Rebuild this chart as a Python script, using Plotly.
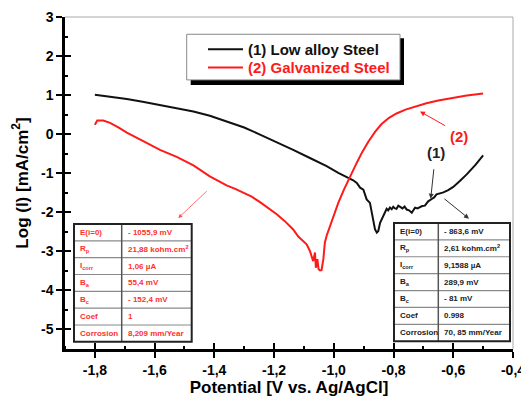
import plotly.graph_objects as go

# ---------------- data ----------------
x_low = [-1.800, -1.750, -1.693, -1.640, -1.582, -1.525, -1.470, -1.415, -1.359, -1.300,
         -1.247, -1.190, -1.136, -1.080, -1.024, -0.985, -0.952, -0.935, -0.923, -0.912,
         -0.901, -0.890, -0.879, -0.873, -0.868, -0.862, -0.856, -0.851, -0.845, -0.840,
         -0.834, -0.829, -0.823, -0.818, -0.812, -0.806, -0.801, -0.795, -0.790, -0.784,
         -0.778, -0.770, -0.763, -0.756, -0.748, -0.739, -0.733, -0.728, -0.720, -0.712,
         -0.704, -0.695, -0.684, -0.672, -0.664, -0.656, -0.645, -0.633, -0.617, -0.600,
         -0.578, -0.555, -0.525, -0.500]
y_low = [1.01, 0.96, 0.90, 0.83, 0.75, 0.67, 0.58, 0.47, 0.33, 0.17,
         -0.01, -0.20, -0.40, -0.61, -0.82, -0.99, -1.12, -1.18, -1.25, -1.37,
         -1.42, -1.67, -1.76, -2.01, -2.18, -2.44, -2.52, -2.48, -2.27, -2.18,
         -2.10, -1.97, -1.91, -1.95, -1.88, -1.92, -1.86, -1.90, -1.91, -1.83,
         -1.86, -1.90, -1.85, -1.93, -1.95, -2.01, -1.94, -1.88, -1.90, -1.86,
         -1.84, -1.83, -1.72, -1.66, -1.62, -1.54, -1.52, -1.49, -1.43, -1.35,
         -1.20, -1.03, -0.78, -0.54]

x_galv = [-1.800, -1.796, -1.792, -1.772, -1.749, -1.720, -1.693, -1.638, -1.582, -1.526,
          -1.470, -1.415, -1.359, -1.330, -1.303, -1.275, -1.247, -1.220, -1.191, -1.165,
          -1.136, -1.119, -1.100, -1.091, -1.080, -1.074, -1.069, -1.063, -1.060, -1.055,
          -1.051, -1.046, -1.041, -1.035, -1.030, -1.024, -1.005, -0.985, -0.966, -0.946,
          -0.923, -0.905, -0.885, -0.862, -0.840, -0.815, -0.790, -0.760, -0.722, -0.690,
          -0.650, -0.611, -0.555, -0.500]
y_galv = [0.24, 0.32, 0.35, 0.35, 0.29, 0.17, 0.04, -0.18, -0.40, -0.58,
          -0.80, -1.08, -1.31, -1.40, -1.50, -1.60, -1.74, -1.88, -2.05, -2.22,
          -2.44, -2.62, -2.74, -2.82, -2.99, -3.12, -3.25, -3.03, -3.42, -3.20,
          -3.46, -3.49, -3.48, -3.20, -2.78, -2.60, -2.18, -1.76, -1.42, -1.08,
          -0.73, -0.46, -0.20, 0.06, 0.26, 0.42, 0.53, 0.63, 0.72, 0.79,
          0.86, 0.92, 0.99, 1.04]

xtick_vals = [-1.8, -1.6, -1.4, -1.2, -1.0, -0.8, -0.6, -0.4]
xtick_text = ["-1,8", "-1,6", "-1,4", "-1,2", "-1,0", "-0,8", "-0,6", "-0,4"]
xminor_vals = [-1.9, -1.7, -1.5, -1.3, -1.1, -0.9, -0.7, -0.5]
ytick_vals = [3, 2, 1, 0, -1, -2, -3, -4, -5]
ytick_text = ["3", "2", "1", "0", "-1", "-2", "-3", "-4", "-5"]
yminor_vals = [2.5, 1.5, 0.5, -0.5, -1.5, -2.5, -3.5, -4.5]

series_names = ["(1) Low alloy Steel", "(2) Galvanized Steel"]
table_labels = ["E(i=0)", "R<sub>p</sub>", "I<sub>corr</sub>", "B<sub>a</sub>",
                "B<sub>c</sub>", "Coef", "Corrosion"]
galv_values = ["- 1055,9 mV", "21,88 kohm.cm<sup>2</sup>", "1,06 µA", "55,4 mV",
               "- 152,4 mV", "1", "8,209 mm/Year"]
low_values = ["- 863,6 mV", "2,61 kohm.cm<sup>2</sup>", "9,1588 µA", "289,9 mV",
              "- 81 mV", "0.998", "70, 85 mm/Year"]

# ---------------- layout geometry ----------------
PAGE_W, PAGE_H = 529, 401
OFF = 8                      # default page body margin
W, H = PAGE_W - OFF, PAGE_H - OFF
L, R, T, B = 65, 513, 17, 349.5   # plot area in page pixels
FONT = "Liberation Sans, Arial, sans-serif"
BLACK = "#111111"
RED = "#ff1a1a"


def fx(p):
    return (p - L) / (R - L)


def fy(p):
    return (B - p) / (B - T)


fig = go.Figure()
fig.add_trace(go.Scatter(x=x_low, y=y_low, mode="lines", name=series_names[0],
                         line=dict(color=BLACK, width=2), showlegend=False))
fig.add_trace(go.Scatter(x=x_galv, y=y_galv, mode="lines", name=series_names[1],
                         line=dict(color=RED, width=2), showlegend=False))
fig.add_trace(go.Scatter(x=[-1.0], y=[0], xaxis="x2", yaxis="y2", mode="markers",
                         marker=dict(opacity=0), hoverinfo="skip", showlegend=False))

shapes = []
annotations = []

shapes.append(dict(type="line", xref="paper", yref="paper", x0=0, x1=1, y0=1, y1=1,
                   line=dict(color="#aaaaaa", width=1)))
shapes.append(dict(type="line", xref="paper", yref="paper", x0=1, x1=1, y0=0, y1=1,
                   line=dict(color="#aaaaaa", width=1)))

lx0, lx1, ly0, ly1 = 186.7, 400, 34.3, 80
shapes.append(dict(type="rect", xref="paper", yref="paper",
                   x0=fx(lx0 + 4), x1=fx(lx1 + 4), y0=fy(ly1 + 5), y1=fy(ly0 + 4),
                   fillcolor="black", line=dict(width=0), layer="above"))
shapes.append(dict(type="rect", xref="paper", yref="paper",
                   x0=fx(lx0), x1=fx(lx1), y0=fy(ly1), y1=fy(ly0),
                   fillcolor="white", line=dict(color="#888888", width=1), layer="above"))
for i, (col, ypix) in enumerate([(BLACK, 49.3), (RED, 67.7)]):
    shapes.append(dict(type="line", xref="paper", yref="paper",
                       x0=fx(208), x1=fx(243), y0=fy(ypix), y1=fy(ypix),
                       line=dict(color=col, width=2), layer="above"))
    annotations.append(dict(xref="paper", yref="paper", x=fx(246), y=fy(ypix),
                            xanchor="left", yanchor="middle", showarrow=False,
                            text=series_names[i],
                            font=dict(family=FONT, size=15, color=col, weight="bold")))


def add_table(x0, xd, x1, y0, y1, values, color):
    n = len(table_labels)
    rh = (y1 - y0) / n
    shapes.append(dict(type="rect", xref="paper", yref="paper",
                       x0=fx(x0), x1=fx(x1), y0=fy(y1), y1=fy(y0),
                       fillcolor="white", line=dict(width=0), layer="above"))
    for k in range(1, n):
        yy = y0 + k * rh
        shapes.append(dict(type="line", xref="paper", yref="paper",
                           x0=fx(x0), x1=fx(x1), y0=fy(yy), y1=fy(yy),
                           line=dict(color="#8a8a8a", width=1.2), layer="above"))
    shapes.append(dict(type="line", xref="paper", yref="paper",
                       x0=fx(xd), x1=fx(xd), y0=fy(y1), y1=fy(y0),
                       line=dict(color="#555555", width=1.5), layer="above"))
    shapes.append(dict(type="rect", xref="paper", yref="paper",
                       x0=fx(x0), x1=fx(x1), y0=fy(y1), y1=fy(y0),
                       line=dict(color="#222222", width=2), layer="above"))
    for k in range(n):
        yc = y0 + (k + 0.5) * rh
        annotations.append(dict(xref="paper", yref="paper", x=fx(x0 + 4), y=fy(yc),
                                xanchor="left", yanchor="middle", showarrow=False,
                                text=table_labels[k],
                                font=dict(family=FONT, size=8, color=color, weight="bold")))
        annotations.append(dict(xref="paper", yref="paper", x=fx(xd + 4), y=fy(yc),
                                xanchor="left", yanchor="middle", showarrow=False,
                                text=values[k],
                                font=dict(family=FONT, size=8, color=color, weight="bold")))


add_table(74, 121.7, 191.7, 224.3, 342.3, galv_values, "#ff3030")
add_table(394, 438.3, 510, 223.3, 341.7, low_values, "#222222")


def arrow(tail, head, color, width=1):
    annotations.append(dict(xref="paper", yref="paper", x=fx(head[0]), y=fy(head[1]),
                            axref="pixel", ayref="pixel",
                            ax=tail[0] - head[0], ay=tail[1] - head[1],
                            text="", showarrow=True, arrowhead=2, arrowsize=1,
                            arrowwidth=width, arrowcolor=color))


arrow((208.3, 190), (178.3, 218.3), "#ff5050", 0.8)
arrow((446.7, 126.7), (420, 111.7), RED, 1)
arrow((434, 168), (430.7, 199), "#333333", 1)
arrow((443, 198), (469, 219), "#333333", 1)

annotations.append(dict(xref="paper", yref="paper", x=fx(459), y=fy(137), showarrow=False,
                        text="(2)", xanchor="center", yanchor="middle",
                        font=dict(family=FONT, size=15, color=RED, weight="bold")))
annotations.append(dict(xref="paper", yref="paper", x=fx(436), y=fy(153), showarrow=False,
                        text="(1)", xanchor="center", yanchor="middle",
                        font=dict(family=FONT, size=15, color="#222222", weight="bold")))

tickfont = dict(family=FONT, size=14, color="black", weight="bold")
titlefont = dict(family=FONT, size=17, color="black", weight="bold")

fig.update_layout(
    width=W, height=H,
    margin=dict(l=L - OFF, r=PAGE_W - R, t=T - OFF, b=PAGE_H - B, autoexpand=False),
    paper_bgcolor="white", plot_bgcolor="white",
    showlegend=False,
    shapes=shapes, annotations=annotations,
    xaxis=dict(range=[-1.9, -0.4], showgrid=False, zeroline=False,
               showline=True, linecolor="black", linewidth=2.5,
               ticks="outside", ticklen=6, tickwidth=2, tickcolor="black",
               tickmode="array", tickvals=xtick_vals, ticktext=xtick_text,
               tickfont=tickfont,
               minor=dict(ticks="inside", ticklen=3, tickwidth=2, tickcolor="black",
                          tickmode="array", tickvals=xminor_vals, showgrid=False),
               title=dict(text="Potential [V vs. Ag/AgCl]", font=titlefont, standoff=5)),
    yaxis=dict(range=[-5.5, 3], showgrid=False, zeroline=False,
               showline=True, linecolor="black", linewidth=2.5,
               ticks="outside", ticklen=6, tickwidth=2, tickcolor="black",
               tickmode="array", tickvals=ytick_vals, ticktext=ytick_text,
               tickfont=tickfont,
               minor=dict(ticks="inside", ticklen=3, tickwidth=2, tickcolor="black",
                          tickmode="array", tickvals=yminor_vals, showgrid=False),
               title=dict(text="Log (I) [mA/cm<sup>2</sup>]", font=titlefont, standoff=9)),
    xaxis2=dict(range=[-1.9, -0.4], overlaying="x", anchor="y2", side="bottom",
                showgrid=False, zeroline=False, showline=False,
                ticks="inside", ticklen=6, tickwidth=2, tickcolor="black",
                tickmode="array", tickvals=xtick_vals, showticklabels=False),
    yaxis2=dict(range=[-5.5, 3], overlaying="y", anchor="x2", side="left",
                showgrid=False, zeroline=False, showline=False,
                ticks="inside", ticklen=6, tickwidth=2, tickcolor="black",
                tickmode="array", tickvals=ytick_vals, showticklabels=False),
)

fig.write_html("out.html")
